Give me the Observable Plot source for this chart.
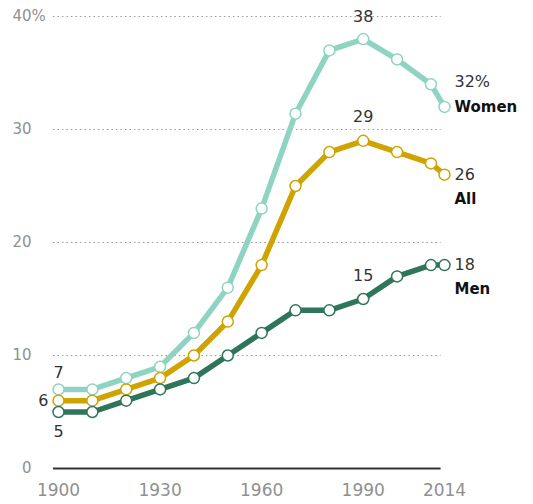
<!DOCTYPE html>
<html>
<head>
<meta charset="utf-8">
<script src="https://cdn.jsdelivr.net/npm/d3@7"></script>
<script src="https://cdn.jsdelivr.net/npm/@observablehq/plot@0.6"></script>
<style>
  html, body { margin: 0; padding: 0; background: #fff; }
  #chart { width: 533px; height: 504px; }
  svg { font-family: "DejaVu Sans", "Liberation Sans", Arial, sans-serif; }
</style>
</head>
<body>
<div id="chart"></div>
<script>
const years = [1900, 1910, 1920, 1930, 1940, 1950, 1960, 1970, 1980, 1990, 2000, 2010, 2014];
const women = [7, 7, 8, 9, 12, 16, 23, 31.4, 37, 38, 36.2, 34, 32];
const all   = [6, 6, 7, 8, 10, 13, 18, 25, 28, 29, 28, 27, 26];
const men   = [5, 5, 6, 7, 8, 10, 12, 14, 14, 15, 17, 18, 18];
const seriesNames = ["Women", "All", "Men"];
const seriesColors = ["#8fd4c3", "#cfa300", "#2e7559"];
const yTicks = [0, 10, 20, 30, 40];
const xTicks = [1900, 1930, 1960, 1990, 2014];

const valuesByName = {Women: women, All: all, Men: men};
const data = seriesNames.flatMap(name =>
  years.map((year, i) => ({series: name, year, value: valuesByName[name][i]}))
);
const color = Object.fromEntries(seriesNames.map((n, i) => [n, seriesColors[i]]));
const last = years.length - 1;
const iPeak = years.indexOf(1990);

const numStyle = {fontSize: 16, fill: "#333"};
const nameStyle = {fontSize: 15, fontWeight: "bold", fill: "#111", textAnchor: "start", dx: 10};
const pt = (year, value) => [{year, value}];

const chart = Plot.plot({
  width: 533,
  height: 504,
  marginLeft: 58,
  marginRight: 89,
  marginTop: 16,
  marginBottom: 36,
  x: {domain: [1900, 2014]},
  y: {domain: [0, 40]},
  marks: [
    Plot.ruleY(yTicks.filter(d => d > 0), {x1: 1898.5, x2: 2013, stroke: "#9a9a9a", strokeWidth: 1, strokeDasharray: "1.5,3"}),
    Plot.ruleY([0], {x1: 1898.5, x2: 2013, stroke: "#333", strokeWidth: 2}),
    Plot.axisY({ticks: yTicks, tickSize: 0, tickPadding: 27, fontSize: 15, color: "#909090", label: null}),
    Plot.text([40], {x: () => 1900, y: d => d, text: () => "%", dx: -27, textAnchor: "start", fontSize: 15, fill: "#909090"}),
    Plot.axisX({ticks: xTicks, tickFormat: d => String(d), tickSize: 0, tickPadding: 15, fontSize: 17, color: "#909090", label: null}),
    Plot.line(data, {x: "year", y: "value", z: "series", stroke: d => color[d.series], strokeWidth: 5.5, curve: "linear"}),
    Plot.dot(data, {x: "year", y: "value", r: 5.5, fill: "white", stroke: d => color[d.series], strokeWidth: 1.5}),
    // peak / start labels
    Plot.text(pt(1990, women[iPeak]), {x: "year", y: "value", text: () => "38", dy: -22, ...numStyle}),
    Plot.text(pt(1990, all[iPeak]), {x: "year", y: "value", text: () => "29", dy: -24, ...numStyle}),
    Plot.text(pt(1990, men[iPeak]), {x: "year", y: "value", text: () => "15", dy: -23, ...numStyle}),
    Plot.text(pt(1900, women[0]), {x: "year", y: "value", text: () => "7", dy: -17, ...numStyle}),
    Plot.text(pt(1900, men[0]), {x: "year", y: "value", text: () => "5", dy: 20, ...numStyle}),
    Plot.text(pt(1900, all[0]), {x: "year", y: "value", text: () => "6", dx: -10, textAnchor: "end", ...numStyle}),
    // end labels
    Plot.text(pt(2014, women[last]), {x: "year", y: "value", text: () => "32%", dx: 10, dy: -25, textAnchor: "start", ...numStyle}),
    Plot.text(pt(2014, women[last]), {x: "year", y: "value", text: () => "Women", ...nameStyle}),
    Plot.text(pt(2014, all[last]), {x: "year", y: "value", text: () => "26", dx: 10, textAnchor: "start", ...numStyle}),
    Plot.text(pt(2014, all[last]), {x: "year", y: "value", text: () => "All", dy: 24, ...nameStyle}),
    Plot.text(pt(2014, men[last]), {x: "year", y: "value", text: () => "18", dx: 10, textAnchor: "start", ...numStyle}),
    Plot.text(pt(2014, men[last]), {x: "year", y: "value", text: () => "Men", dy: 24, ...nameStyle})
  ]
});
document.getElementById("chart").appendChild(chart);
</script>
</body>
</html>
